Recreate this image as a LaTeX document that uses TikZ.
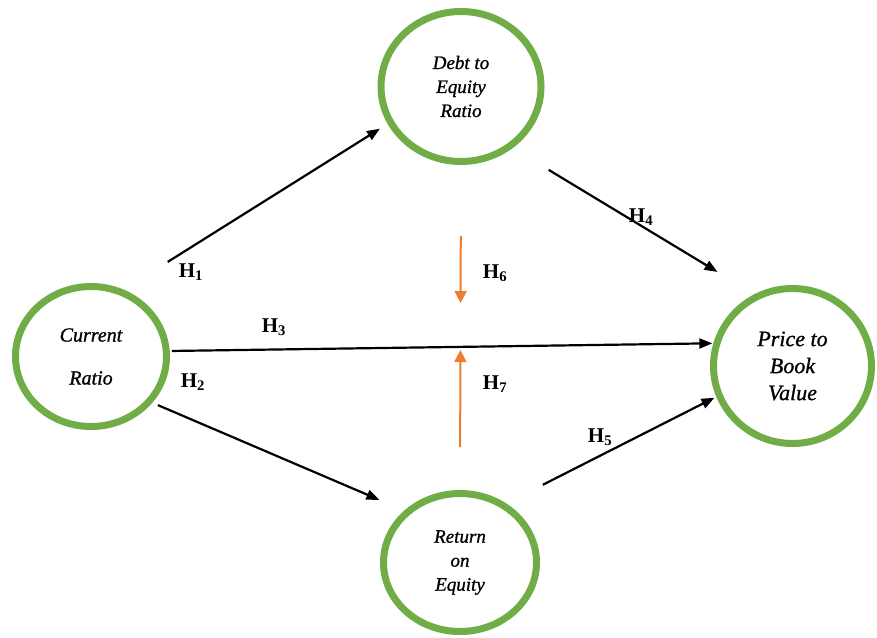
\documentclass[tikz,border=0pt]{standalone}
\usepackage{fontspec}
\setmainfont{Liberation Serif}[ItalicFeatures={FakeBold=1}]
\usetikzlibrary{arrows.meta,shapes.geometric}
\definecolor{ring}{RGB}{112,173,71}
\definecolor{moder}{RGB}{237,125,49}

\begin{document}
\begin{tikzpicture}[x=1pt,y=-1pt,
  var/.style={ellipse,draw=ring,line width=7pt,align=center,inner sep=0pt,
    font=\fontsize{19}{24}\selectfont\itshape},
  link/.style={line width=2.2pt,-{Triangle[length=13pt,width=10pt]}},
  modlink/.style={draw=moder,line width=2pt,-{Triangle[length=12pt,width=12pt]}},
  hyp/.style={font=\fontsize{21}{21}\selectfont\bfseries}]
\useasboundingbox (0,0) rectangle (877,637);
\node[var,minimum width=160pt,minimum height=150pt] (dte) at (461,86.5) {Debt to\\Equity\\Ratio};
\node[var,minimum width=151pt,minimum height=140pt,font=\fontsize{20}{24}\selectfont\itshape] (cr) at (91,356.5) {Current\\[19pt]Ratio};
\node[var,minimum width=158pt,minimum height=155pt,font=\fontsize{22}{27}\selectfont\itshape] (pbv) at (792.5,366) {Price to\\Book\\Value};
\node[var,minimum width=153pt,minimum height=138pt] (roe) at (460,562.5) {Return\\on\\Equity};
\draw[link,shorten <=52pt,shorten >=9pt] (cr.64) -- (dte.207);
\draw[link,shorten <=6pt,shorten >=27pt] (cr.-37) -- (roe.137);
\draw[link,shorten <=2pt,shorten >=1pt] (cr.4) -- (pbv.164);
\draw[link,shorten <=42pt,shorten >=43pt] (dte.-50) -- (pbv.118);
\draw[link,shorten <=41pt,shorten >=2pt] (roe.52) -- (pbv.202);
\draw[modlink,shorten <=71pt,shorten >=187pt] (dte.south) -- (roe.north);
\draw[modlink,shorten <=43pt,shorten >=185pt] (roe.north) -- (dte.south);
\node[hyp] (h1) at (191,272) {H\textsubscript{1}};
\node[hyp] (h2) at (193,382) {H\textsubscript{2}};
\node[hyp] (h3) at (274,327) {H\textsubscript{3}};
\node[hyp] (h4) at (641,217) {H\textsubscript{4}};
\node[hyp] (h5) at (600,437) {H\textsubscript{5}};
\node[hyp] (h6) at (495,273) {H\textsubscript{6}};
\node[hyp] (h7) at (495,384) {H\textsubscript{7}};
\end{tikzpicture}
\end{document}
